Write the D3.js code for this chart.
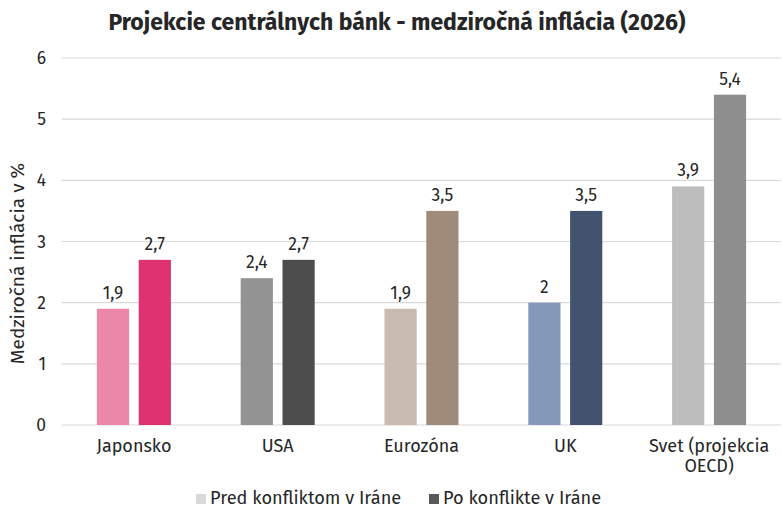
<!DOCTYPE html>
<html>
<head>
<meta charset="utf-8">
<script src="https://cdn.jsdelivr.net/npm/d3@7"></script>
<style>
    body { margin: 0; background: #fff; }
    text { font-family: "Fira Sans", "Open Sans", "Noto Sans", sans-serif; fill: #262626; }
</style>
</head>
<body>
<svg id="chart" width="782" height="511"></svg>
<script>
// chart data
const categories = ["Japonsko", "USA", "Eurozóna", "UK", "Svet (projekcia|OECD)"];
const seriesNames = ["Pred konfliktom v Iráne", "Po konflikte v Iráne"];
const before = [1.9, 2.4, 1.9, 2, 3.9];
const after = [2.7, 2.7, 3.5, 3.5, 5.4];
const yTicks = [0, 1, 2, 3, 4, 5, 6];

const lightColors = ["#ec87aa", "#939393", "#c9bbb0", "#8498ba", "#bdbdbd"];
const darkColors = ["#de3370", "#4d4d4d", "#a08b7a", "#43536f", "#8e8e8e"];

const svg = d3.select("#chart");
const margin = { left: 62, right: 1, top: 58, bottom: 86 };
const width = 782, height = 511;

const x = d3.scaleBand()
    .domain(categories)
    .range([margin.left, width - margin.right])
    .paddingInner(0)
    .paddingOuter(0);

const x1 = d3.scaleBand()
    .domain([0, 1])
    .range([x.bandwidth() / 2 - 37, x.bandwidth() / 2 + 37])
    .paddingInner(0.23);

const y = d3.scaleLinear()
    .domain([0, 6])
    .range([height - margin.bottom, margin.top]);

const fmt = v => String(v).replace(".", ",");

// title
svg.append("text")
    .attr("x", 397)
    .attr("y", 30)
    .attr("text-anchor", "middle")
    .attr("font-size", 23)
    .attr("font-weight", "bold")
    .text("Projekcie centrálnych bánk - medziročná inflácia (2026)");

// gridlines
svg.append("g")
    .selectAll("line")
    .data(yTicks)
    .enter().append("line")
    .attr("x1", margin.left)
    .attr("x2", width - margin.right)
    .attr("y1", d => y(d))
    .attr("y2", d => y(d))
    .attr("stroke", "#d9d9d9")
    .attr("stroke-width", 1.2);

// y tick labels
svg.append("g")
    .selectAll("text")
    .data(yTicks)
    .enter().append("text")
    .attr("x", 46)
    .attr("y", d => y(d))
    .attr("dy", "0.35em")
    .attr("text-anchor", "end")
    .attr("font-size", 17.5)
    .text(d => d);

// y axis title
svg.append("text")
    .attr("transform", `translate(24,${y(3) + 22}) rotate(-90)`)
    .attr("text-anchor", "middle")
    .attr("font-size", 19)
    .text("Medziročná inflácia v %");

// bars
const groups = svg.append("g")
    .selectAll("g")
    .data(categories)
    .enter().append("g")
    .attr("transform", d => `translate(${x(d)},0)`);

groups.each(function (cat, i) {
    const g = d3.select(this);
    const vals = [before[i], after[i]];
    const cols = [lightColors[i], darkColors[i]];
    vals.forEach(function (v, j) {
        g.append("rect")
            .attr("x", x1(j))
            .attr("width", x1.bandwidth())
            .attr("y", y(v))
            .attr("height", y(0) - y(v))
            .attr("fill", cols[j]);
        g.append("text")
            .attr("x", x1(j) + x1.bandwidth() / 2)
            .attr("y", y(v) - 10)
            .attr("text-anchor", "middle")
            .attr("font-size", 17.5)
            .text(fmt(v));
    });
});

// category labels
groups.append("text")
    .attr("x", x.bandwidth() / 2)
    .attr("y", 452)
    .attr("text-anchor", "middle")
    .attr("font-size", 18)
    .selectAll("tspan")
    .data(d => d.split("|"))
    .enter().append("tspan")
    .attr("x", x.bandwidth() / 2)
    .attr("dy", (d, i) => i == 0 ? 0 : 20)
    .text(d => d);

// legend
const legendItems = [
    { name: seriesNames[0], color: "#d9d9d9", x: 196 },
    { name: seriesNames[1], color: "#595959", x: 429 }
];
const legend = svg.append("g")
    .selectAll("g")
    .data(legendItems)
    .enter().append("g")
    .attr("transform", d => `translate(${d.x},504)`);

legend.append("rect")
    .attr("x", 0)
    .attr("y", -10)
    .attr("width", 10)
    .attr("height", 10)
    .attr("fill", d => d.color);

legend.append("text")
    .attr("x", 14)
    .attr("y", 0)
    .attr("font-size", 18.2)
    .text(d => d.name);
</script>
</body>
</html>
